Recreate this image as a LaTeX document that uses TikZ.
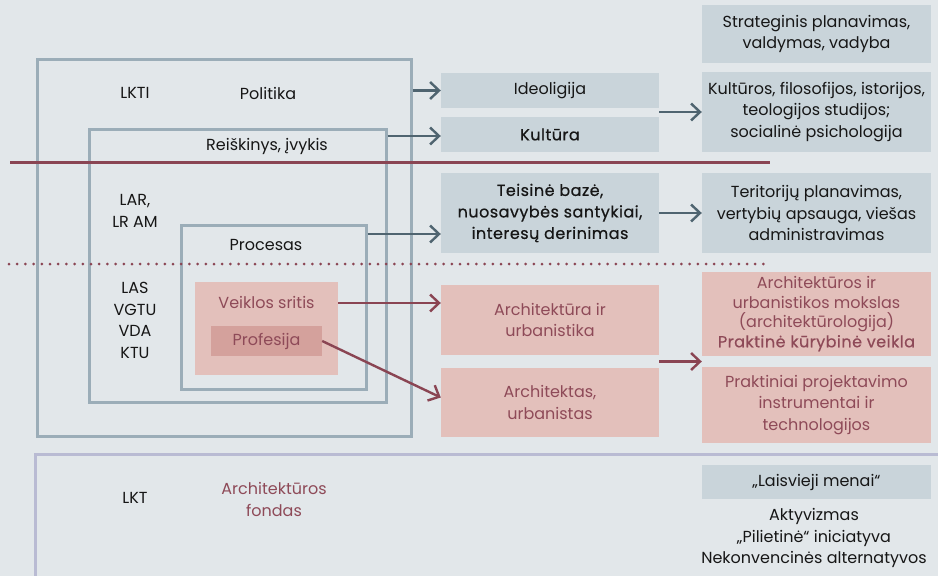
\documentclass[tikz,border=0pt]{standalone}
\usepackage{fontspec}
\setmainfont{Poppins}
\newfontfamily\medfont{Poppins}[FakeBold=0.5,LetterSpace=3]
\usetikzlibrary{arrows.meta,calc}
\definecolor{bg}{HTML}{E2E7EA}
\definecolor{boxgray}{HTML}{C9D4DA}
\definecolor{frameblue}{HTML}{9BADB8}
\definecolor{arrowgray}{HTML}{4F6470}
\definecolor{pinkfill}{HTML}{E3C0BB}
\definecolor{pinkdark}{HTML}{D4A19C}
\definecolor{pinktext}{HTML}{8E4A58}
\definecolor{redline}{HTML}{8A4553}
\definecolor{lav}{HTML}{B9BBD3}
\definecolor{txt}{HTML}{161616}
\begin{document}
\begin{tikzpicture}[x=1pt,y=-1pt,
  every node/.style={font=\fontsize{16}{21.5}\selectfont, text=txt, align=center, inner sep=0pt},
  frame/.style={draw=frameblue, line width=3pt, inner sep=0pt},
  gbox/.style={fill=boxgray, inner sep=0pt},
  pbox/.style={fill=pinkfill, inner sep=0pt, text=pinktext},
  midcol/.style={minimum width=218pt},
  rightcol/.style={minimum width=229pt},
  garrow/.style={draw=arrowgray, line width=2.4pt, -{Straight Barb[length=9pt,width=17pt]}},
  parrow/.style={draw=redline, line width=2.4pt, -{Straight Barb[length=9pt,width=17pt]}},
]
\fill[bg] (0,0) rectangle (938,576);
\useasboundingbox (0,0) rectangle (938,576);

% frames
\node[frame, minimum width=374pt, minimum height=377pt] (f1) at (224,247.5) {};
\node[frame, minimum width=297pt, minimum height=273pt] (f2) at (237.5,265.5) {};
\node[frame, minimum width=185pt, minimum height=164pt] (f3) at (273.5,307) {};

% separator lines
\coordinate (rl1) at (10,162);
\coordinate (rl2) at (770,162);
\draw[redline, line width=3pt] (rl1) -- (rl2);
\coordinate (dl1) at (9,264);
\coordinate (dl2) at (766,264);
\draw[redline, line width=3pt, line cap=round, dash pattern=on 0pt off 8.2pt] (dl1) -- (dl2);

% bottom frame
\coordinate (bf1) at (945,454);
\coordinate (bf2) at (35.5,454);
\coordinate (bf3) at (35.5,585);
\draw[lav, line width=3pt] (bf1) -- (bf2) -- (bf3);

% pink boxes inside
\node[pbox, minimum width=143pt, minimum height=93pt] (veik) at (266.5,328.5) {};
\node[text=pinktext] (veiktxt) at (266.5,302) {Veiklos sritis};
\node[fill=pinkdark, text=pinktext, minimum width=111pt, minimum height=30pt] (prof) at (266.5,341) {Profesija};

% left labels
\node (lkti) at (135,93) {LKTI};
\node (polit) at (268,93) {Politika};
\node (reisk) at (267,146) {Reiškinys, įvykis};
\node (lar) at (135,211) {LAR,\\LR AM};
\node (proc) at (266,245) {Procesas};
\node (las) at (135,320.5) {LAS\\VGTU\\VDA\\KTU};
\node (lkt) at (135,498) {LKT};
\node[text=pinktext] (fond) at (274,499.5) {Architektūros\\fondas};

% middle column
\node[gbox, midcol, minimum height=35pt] (ideo) at (550,90.5) {Ideoligija};
\node[gbox, midcol, minimum height=35pt] (kult) at (550,134.5) {\medfont Kultūra};
\node[gbox, midcol, minimum height=80pt] (teis) at (550,213) {\medfont Teisinė bazė,\\\medfont nuosavybės santykiai,\\\medfont interesų derinimas};
\node[pbox, midcol, minimum height=70pt] (arch) at (550,320) {Architektūra ir\\urbanistika};
\node[pbox, midcol, minimum height=69pt] (archt) at (550,402.5) {Architektas,\\urbanistas};

% right column
\node[gbox, rightcol, minimum height=58pt] (strat) at (816.5,34) {Strateginis planavimas,\\valdymas, vadyba};
\node[gbox, rightcol, minimum height=80pt] (kultst) at (816.5,112) {Kultūros, filosofijos, istorijos,\\teologijos studijos;\\socialinė psichologija};
\node[gbox, rightcol, minimum height=80pt] (terit) at (816.5,213) {Teritorijų planavimas,\\vertybių apsauga, viešas\\administravimas};
\node[pbox, rightcol, minimum height=84pt, font=\fontsize{16}{19.5}\selectfont] (moksl) at (816.5,314) {Architektūros ir\\urbanistikos mokslas\\(architektūrologija)\\\medfont Praktinė kūrybinė veikla};
\node[pbox, rightcol, minimum height=76pt] (prakt) at (816.5,405) {Praktiniai projektavimo\\instrumentai ir\\technologijos};
\node[gbox, rightcol, minimum height=34pt] (laisv) at (816.5,482) {„Laisvieji menai“};
\node (akt) at (814,538) {Aktyvizmas\\„Pilietinė“ iniciatyva\\Nekonvencinės alternatyvos};

% arrows gray
\draw[garrow] (f1.east |- ideo.west) -- (ideo.west);
\draw[garrow] ([yshift=-1.5pt]kult.west -| f2.east) -- ([yshift=-1.5pt]kult.west);
\draw[garrow] ([yshift=-21pt]teis.west -| f3.east) -- ([yshift=-21pt]teis.west);
\draw[garrow] (kultst.west -| ideo.east) -- (kultst.west);
\draw[garrow] (teis.east) -- (terit.west);

% arrows pink
\draw[parrow] ([yshift=17pt]arch.west -| veik.east) -- ([yshift=17pt]arch.west);
\draw[parrow] (prof.east) -- ([yshift=5pt]archt.west);
\coordinate (mid) at ($(moksl.south west)!0.5!(prakt.north west)$);
\draw[parrow] (mid -| arch.east) -- (mid);
\end{tikzpicture}
\end{document}
